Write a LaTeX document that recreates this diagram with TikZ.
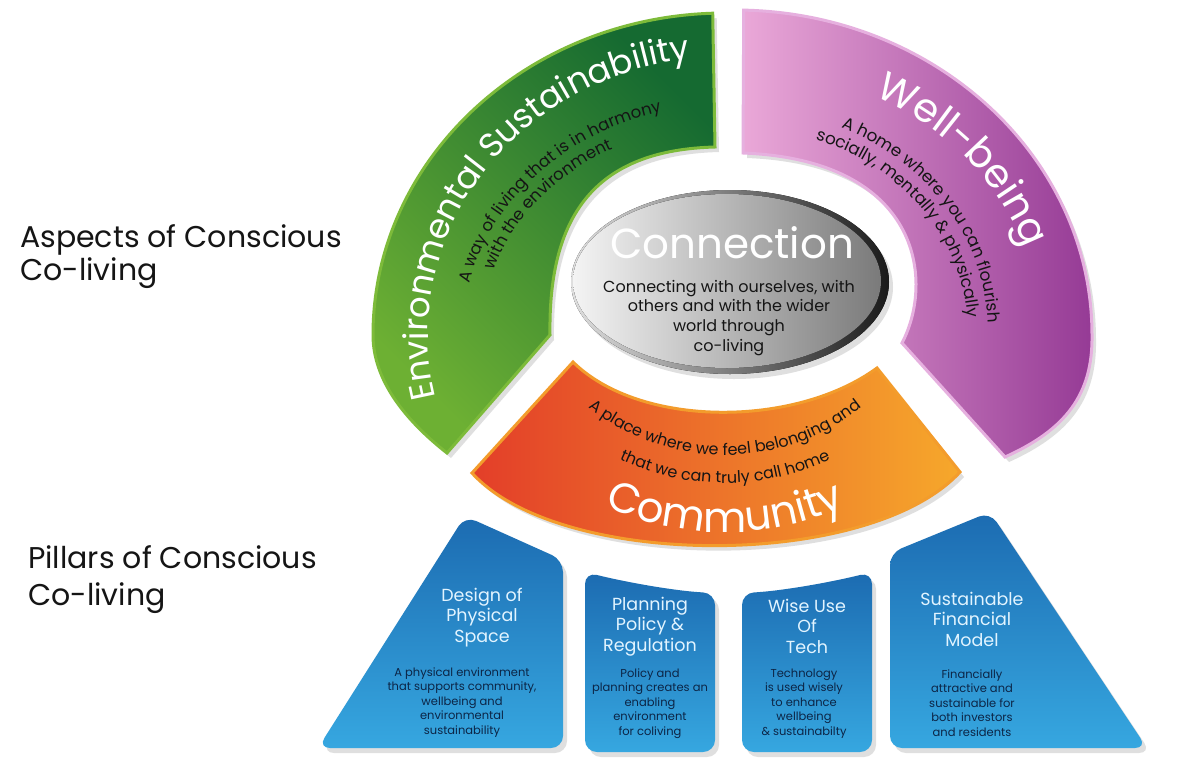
\documentclass[tikz,border=0pt]{standalone}
\usepackage{fontspec}
\setmainfont{Poppins}
\usetikzlibrary{decorations.text,shadows}
\definecolor{gL}{HTML}{6DB033}
\definecolor{gD}{HTML}{156A31}
\definecolor{gRim}{HTML}{7DBB3A}
\definecolor{pL}{HTML}{EAA8D8}
\definecolor{pD}{HTML}{953A95}
\definecolor{pRim}{HTML}{E6B0DF}
\definecolor{oL}{HTML}{E33E29}
\definecolor{oR}{HTML}{F6A82B}
\definecolor{oRim}{HTML}{F39C2C}
\definecolor{bT}{HTML}{1C6BB1}
\definecolor{bB}{HTML}{36A7E0}
\definecolor{tTitle}{HTML}{E2F4FF}
\definecolor{tDesc}{HTML}{0C2546}
\definecolor{txt}{HTML}{151515}
\definecolor{eL}{HTML}{F4F4F4}
\definecolor{eR}{HTML}{7A7A7A}
\begin{document}
\begin{tikzpicture}[x=1pt,y=-1pt,
  shad/.style={drop shadow={opacity=0.25,shadow xshift=4pt,shadow yshift=-5pt}},
  greenband/.style={shad,draw=gRim,line width=3pt,top color=gD,bottom color=gL,shading angle=-45},
  purpleband/.style={shad,draw=pRim,line width=3pt,left color=pL,right color=pD},
  orangeband/.style={shad,draw=oRim,line width=3pt,left color=oL,right color=oR},
  pillar/.style={shad,rounded corners=12pt,top color=bT,bottom color=bB},
  lefttxt/.style={anchor=base west,align=left,inner sep=0pt,text=txt},
  ptitle/.style={anchor=base,align=center,inner sep=0pt,text=tTitle,font=\fontsize{17.5}{20.8}\selectfont},
  pdesc/.style={anchor=base,align=center,inner sep=0pt,text=tDesc,font=\fontsize{11.5}{14.6}\selectfont},
  arctext/.style={decorate,decoration={text along path,text align=center,#1}}
]
\useasboundingbox (0,0) rectangle (1200,766);
\fill[white] (0,0) rectangle (1200,766);

% green band
\path[greenband] ([shift={(725,335)}]-92:352 and 322)
  arc[start angle=-92,end angle=-180,x radius=352,y radius=322]
  .. controls (373,380) and (405,420) .. (447,453) -- (550,335)
  .. controls (548,210) and (600,150) .. (715,147) -- cycle;

% purple band
\path[purpleband] ([shift={(735,335)}]-88.6:357 and 325)
  arc[start angle=-88.6,end angle=0,x radius=357,y radius=325]
  .. controls (1093,395) and (1065,430) .. (1005,457) -- (902,343)
  .. controls (935,280) and (920,160) .. (743,153) -- cycle;

% orange band
\path[orangeband] (573,362) .. controls (640,428) and (795,428) .. (877,368)
  -- (960,472) .. controls (870,570) and (560,570) .. (472,473) -- cycle;

% connection ellipse
\fill[shad,left color=gray!25,right color=black!90] (730,282) ellipse[x radius=159,y radius=92];
\fill[left color=eL,right color=eR] (727,281) ellipse[x radius=154,y radius=87];

% pillars
\path[pillar] (318,748) -- (465,516) -- (563,560) -- (563,748) -- cycle;
\path[pillar] (585,752) -- (585,572) .. controls (625,582) and (675,591) .. (715,593) -- (715,752) -- cycle;
\path[pillar] (742,752) -- (742,593) .. controls (782,591) and (832,582) .. (872,572) -- (872,752) -- cycle;
\path[pillar] (890,748) -- (890,553) -- (990,512) -- (1147,748) -- cycle;

% curved texts: green
\path[arctext={text color=white,text={|\fontsize{34}{34}\selectfont|Environmental Sustainability}}]
  ([shift={(725,335)}]-220.5:297 and 278) arc[start angle=-220.5,end angle=-70.5,x radius=297,y radius=278];
\path[arctext={text color=txt,text={|\fontsize{16.5}{16.5}\selectfont|A way of living that is in harmony}}]
  ([shift={(725,335)}]-213:262 and 230) arc[start angle=-213,end angle=-63,x radius=262,y radius=230];
\path[arctext={text color=txt,text={|\fontsize{16.5}{16.5}\selectfont|with the environment}}]
  ([shift={(725,335)}]-218:243 and 210) arc[start angle=-218,end angle=-68,x radius=243,y radius=210];

% curved texts: purple
\path[arctext={text color=white,text={|\fontsize{40}{40}\selectfont|Well-being}}]
  ([shift={(740,330)}]-108:300 and 262) arc[start angle=-108,end angle=32,x radius=300,y radius=262];
\path[arctext={text color=txt,text={|\fontsize{16.8}{16.8}\selectfont|A home where you can flourish}}]
  ([shift={(740,330)}]-107:248 and 222) arc[start angle=-107,end angle=43,x radius=248,y radius=222];
\path[arctext={text color=txt,text={|\fontsize{16.8}{16.8}\selectfont|socially, mentally {\&} physically}}]
  ([shift={(740,330)}]-110:228 and 202) arc[start angle=-110,end angle=40,x radius=228,y radius=202];

% curved texts: orange
\path[arctext={text color=txt,text={|\fontsize{16}{16}\selectfont|A place where we feel belonging and}}]
  ([shift={(725,236)}]160:219) arc[start angle=160,end angle=20,radius=219];
\path[arctext={text color=txt,text={|\fontsize{16}{16}\selectfont|that we can truly call home}}]
  ([shift={(725,236)}]160:247) arc[start angle=160,end angle=20,radius=247];
\path[arctext={text color=white,text={|\fontsize{42}{42}\selectfont|Community}}]
  ([shift={(725,236)}]160:296) arc[start angle=160,end angle=20,radius=296];

% straight texts (multi-line nodes: base = last line)
\node[lefttxt,font=\fontsize{30}{33.5}\selectfont] (aspects) at (20,280.5) {Aspects of Conscious\\Co-living};
\node[lefttxt,font=\fontsize{30}{37}\selectfont] (pillars) at (28,605) {Pillars of Conscious\\Co-living};

\node[anchor=base,inner sep=0pt,text=white,font=\fontsize{42}{42}\selectfont] (conn) at (732,258) {Connection};
\node[anchor=base,align=center,inner sep=0pt,text=txt,font=\fontsize{16}{19.8}\selectfont] (conntxt) at (729,351.4)
  {Connecting with ourselves, with\\others and with the wider\\world through\\co-living};

\node[ptitle] (t1) at (482,642.6) {Design of\\Physical\\Space};
\node[pdesc] (d1) at (462,734.4) {A physical environment\\that supports community,\\wellbeing and\\environmental\\sustainability};
\node[ptitle] (t2) at (650,651.6) {Planning\\Policy \&\\Regulation};
\node[pdesc] (d2) at (650,735.4) {Policy and\\planning creates an\\enabling\\environment\\for coliving};
\node[ptitle] (t3) at (807,653.6) {Wise Use\\Of\\Tech};
\node[pdesc] (d3) at (804,735.4) {Technology\\is used wisely\\to enhance\\wellbeing\\\& sustainabilty};
\node[ptitle] (t4) at (972,646.6) {Sustainable\\Financial\\Model};
\node[pdesc] (d4) at (972,736.4) {Financially\\attractive and\\sustainable for\\both investors\\and residents};
\end{tikzpicture}
\end{document}
